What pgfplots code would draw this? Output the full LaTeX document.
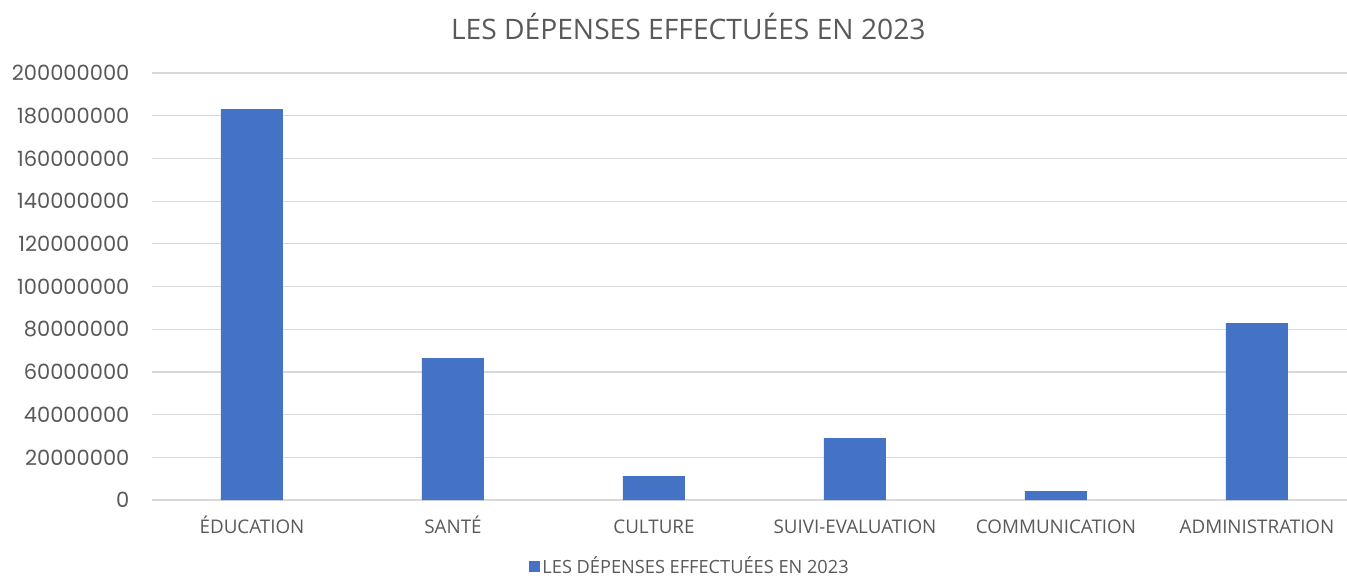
\documentclass[border=0pt]{standalone}
\usepackage{pgfplots}
\pgfplotsset{compat=1.18}
\usepackage{fontspec}
\setmainfont{Open Sans}
\newfontfamily\numfont{Poppins}
\definecolor{barblue}{HTML}{4472C4}
\definecolor{txtgray}{HTML}{595959}
\definecolor{gridgray}{HTML}{D9D9D9}
\begin{document}
\begin{tikzpicture}[x=0.5pt,y=0.5pt]
\useasboundingbox (0,0) rectangle (1347,575);
\begin{axis}[
  at={(75.75pt,37.5pt)}, anchor=south west,
  scale only axis,
  width=597.75pt, height=213.5pt,
  xmin=-0.5, xmax=5.448,
  ymin=0, ymax=200000000,
  ybar, bar width=31pt,
  axis line style={draw=none},
  major tick length=0pt,
  ymajorgrids, grid style={gridgray, line width=0.6pt},
  ytick={0,20000000,40000000,60000000,80000000,100000000,120000000,140000000,160000000,180000000,200000000},
  yticklabels={0,20000000,40000000,60000000,80000000,100000000,120000000,140000000,160000000,180000000,200000000},
  scaled y ticks=false,
  yticklabel style={font=\numfont\fontsize{10.5pt}{12pt}\selectfont, text=txtgray, anchor=east, xshift=-7.5pt},
  xtick={0,1,2,3,4,5},
  xticklabels={ÉDUCATION,SANTÉ,CULTURE,SUIVI-EVALUATION,COMMUNICATION,ADMINISTRATION},
  xticklabel style={font=\fontsize{9.4pt}{11pt}\selectfont, text=txtgray, anchor=base, yshift=-16.5pt},
  title={LES DÉPENSES EFFECTUÉES EN 2023},
  title style={font=\fontsize{14.1pt}{17pt}\selectfont, text=txtgray, at={(0.449,1.08)}, anchor=center},
  legend style={at={(0.4505,-0.155)}, anchor=center, draw=none, fill=none, inner sep=0pt,
    font=\fontsize{9.1pt}{11pt}\selectfont, text=txtgray, legend cell align=left,
    nodes={inner sep=1pt}},
  legend image code/.code={\fill[barblue] (0pt,-2.7pt) rectangle (5.5pt,2.8pt);},
  clip=false,
]
\addplot[fill=barblue, draw=none] coordinates {(0,183100000) (1,66500000) (2,11200000) (3,29000000) (4,4200000) (5,82900000)};
\addlegendentry{LES DÉPENSES EFFECTUÉES EN 2023}
\end{axis}
\end{tikzpicture}
\end{document}
